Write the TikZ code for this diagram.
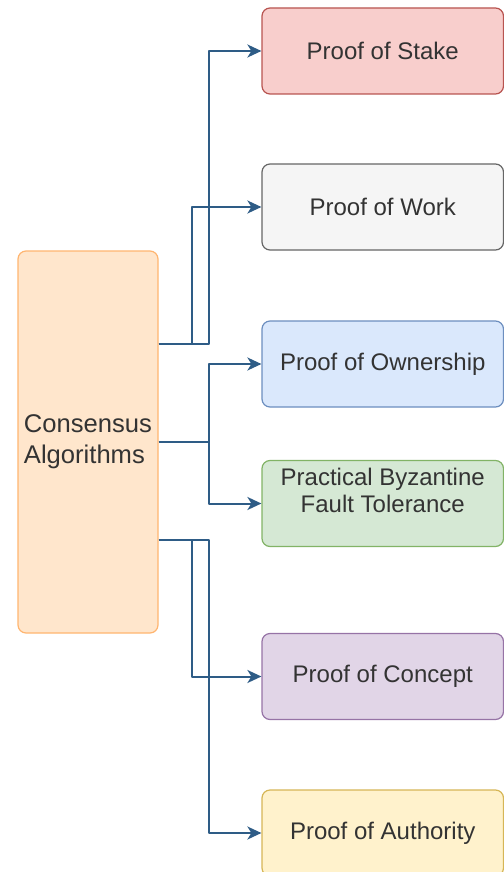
\documentclass[tikz,border=0pt]{standalone}
\usepackage{fontspec}
\setmainfont{Liberation Sans}
\usetikzlibrary{arrows.meta,calc}
\definecolor{txtgray}{HTML}{333333}
\definecolor{linkblue}{HTML}{2E5C86}
\definecolor{rootfill}{HTML}{FFE6CC}
\definecolor{rootline}{HTML}{FFB570}
\definecolor{posfill}{HTML}{F8CECC}
\definecolor{posline}{HTML}{B85450}
\definecolor{powfill}{HTML}{F5F5F5}
\definecolor{powline}{HTML}{666666}
\definecolor{poofill}{HTML}{DAE8FC}
\definecolor{pooline}{HTML}{6C8EBF}
\definecolor{pbftfill}{HTML}{D5E8D4}
\definecolor{pbftline}{HTML}{82B366}
\definecolor{pocfill}{HTML}{E1D5E7}
\definecolor{pocline}{HTML}{9673A6}
\definecolor{poafill}{HTML}{FFF2CC}
\definecolor{poaline}{HTML}{D6B656}
\begin{document}
\begin{tikzpicture}[x=1pt, y=-1pt, line join=round, >={Stealth[length=14pt,width=13pt,inset=4pt]},
	box/.style={draw, line width=1.2pt, rounded corners=8pt, minimum width=241.5pt, minimum height=86pt, inner sep=0pt, align=center, text=txtgray, font=\fontsize{24}{27}\selectfont},
	link/.style={->, draw=linkblue, line width=2pt}]
	\def\xbox{382.75}
	\useasboundingbox (0,0) rectangle (503,872);
	%\draw[color=gray!50,dashed] (0,0) grid[step=50] (503,872);
	\node[box, fill=rootfill, draw=rootline, minimum width=140pt, minimum height=382pt, align=left, font=\fontsize{25.6}{31}\selectfont] (root) at (88,442) {Consensus\\Algorithms};
	\coordinate (r1) at ($(root.north east)!.245!(root.south east)$);
	\coordinate (r2) at ($(root.north east)!.5!(root.south east)$);
	\coordinate (r3) at ($(root.north east)!.755!(root.south east)$);
	\foreach \name/\y/\col/\txt in {pos/51/pos/{Proof of Stake}, pow/207/pow/{Proof of Work}, poo/364/poo/{Proof of Ownership}, pbft/503.5/pbft/{Practical Byzantine\\Fault Tolerance\\\mbox{}}, poc/676.5/poc/{Proof of Concept}, poa/833/poa/{Proof of Authority}}
		\node[box, fill=\col fill, draw=\col line] (\name) at (\xbox,\y) {\txt};
	\foreach \s/\t/\dx in {r1/pos/52, r1/pow/69, r2/poo/52, r2/pbft/52, r3/poc/69, r3/poa/52}
		\draw[link] (\s) -| ([xshift=-\dx]\t.west) -- (\t.west);
\end{tikzpicture}
\end{document}
